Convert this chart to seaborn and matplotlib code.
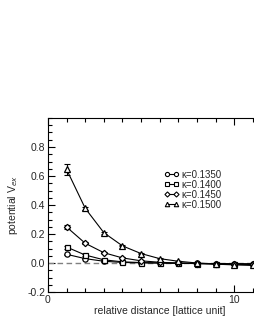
import matplotlib
matplotlib.use("Agg")
import matplotlib.pyplot as plt
import seaborn as sns
import pandas as pd
import numpy as np
from matplotlib.ticker import MultipleLocator
from matplotlib.lines import Line2D

sns.set_theme(style="ticks")
plt.rcParams['font.family'] = ['Liberation Sans', 'DejaVu Sans']

distance = [1, 2, 3, 4, 5, 6, 7, 8, 9, 10, 11]
labels = ["κ=0.1350", "κ=0.1400", "κ=0.1450", "κ=0.1500"]
v_1350 = [0.060, 0.030, 0.012, 0.004, 0.001, 0.000, -0.002, -0.003, -0.004, -0.005, -0.006]
v_1400 = [0.110, 0.055, 0.022, 0.008, 0.003, 0.000, -0.002, -0.004, -0.005, -0.006, -0.007]
v_1450 = [0.248, 0.136, 0.071, 0.035, 0.015, 0.005, 0.000, -0.004, -0.007, -0.009, -0.010]
v_1500 = [0.645, 0.377, 0.209, 0.118, 0.065, 0.030, 0.012, 0.000, -0.008, -0.013, -0.017]
e_1350 = [0.005, 0.003, 0.002, 0.002, 0.002, 0.002, 0.002, 0.002, 0.002, 0.002, 0.002]
e_1400 = [0.010, 0.005, 0.003, 0.002, 0.002, 0.002, 0.002, 0.002, 0.002, 0.002, 0.002]
e_1450 = [0.015, 0.006, 0.004, 0.003, 0.002, 0.002, 0.002, 0.002, 0.002, 0.002, 0.002]
e_1500 = [0.035, 0.010, 0.006, 0.004, 0.003, 0.003, 0.003, 0.003, 0.003, 0.003, 0.003]
markers = ["o", "s", "D", "^"]
msizes = [3.8, 3.6, 3.2, 4.2]

series = [v_1350, v_1400, v_1450, v_1500]
errs = [e_1350, e_1400, e_1450, e_1500]

rows = []
for lab, vals, er in zip(labels, series, errs):
    for d, v, e in zip(distance, vals, er):
        rows.append({"distance": d, "V": v, "err": e, "kappa": lab})
df = pd.DataFrame(rows)

fig = plt.figure(figsize=(2.55, 3.3), dpi=100)
px = 18.62
ax = fig.add_axes([48 / 255, 1 - 292 / 330, 12 * px / 255, (292 - 118) / 330])

ax.axhline(0, color="#808080", lw=1.0, ls=(0, (4, 2.5)), zorder=1)

for lab, m, ms in zip(labels, markers, msizes):
    sub = df[df["kappa"] == lab]
    ax.errorbar(sub["distance"], sub["V"], yerr=sub["err"], fmt="none",
                ecolor="black", elinewidth=0.8, capsize=2.5, capthick=0.8, zorder=2)
    sns.lineplot(data=sub, x="distance", y="V", ax=ax, color="black", lw=0.8,
                 marker=m, markersize=ms, markerfacecolor="white",
                 markeredgecolor="black", markeredgewidth=0.9, label=lab,
                 zorder=3, legend=False)

lsizes = [3.0, 2.8, 2.6, 3.2]
handles = [Line2D([], [], color="black", lw=0.8, marker=m, markersize=ms,
                  markerfacecolor="white", markeredgecolor="black",
                  markeredgewidth=0.8) for m, ms in zip(markers, lsizes)]
leg = ax.legend(handles, labels, loc="upper left",
                bbox_to_anchor=(159 / 255, 1 - 165 / 330),
                bbox_transform=fig.transFigure, frameon=False, fontsize=7,
                handlelength=1.5, handletextpad=0.3, labelspacing=0.0,
                numpoints=2, borderpad=0)

ax.set_xlim(0, 12)
ax.set_ylim(-0.2, 1.0)
ax.xaxis.set_major_locator(MultipleLocator(10))
ax.xaxis.set_minor_locator(MultipleLocator(1))
ax.yaxis.set_minor_locator(MultipleLocator(0.05))
ax.set_yticks([-0.2, 0.0, 0.2, 0.4, 0.6, 0.8])
ax.set_yticklabels(["-0.2", "0.0", "0.2", "0.4", "0.6", "0.8"])
ax.tick_params(which="both", direction="in", top=True, right=False,
               labelsize=7.5, color="black", width=0.8, pad=2)
ax.tick_params(which="major", length=5)
ax.tick_params(which="minor", length=3)
for s in ["left", "bottom", "top"]:
    ax.spines[s].set_color("black")
    ax.spines[s].set_linewidth(0.8)
ax.spines["right"].set_visible(False)

ax.set_xlabel("relative distance [lattice unit]", fontsize=7.5, labelpad=1)
ax.set_ylabel("potential V$_{ex}$", fontsize=7.5, labelpad=5)

fig.savefig("out.png", dpi=100)
